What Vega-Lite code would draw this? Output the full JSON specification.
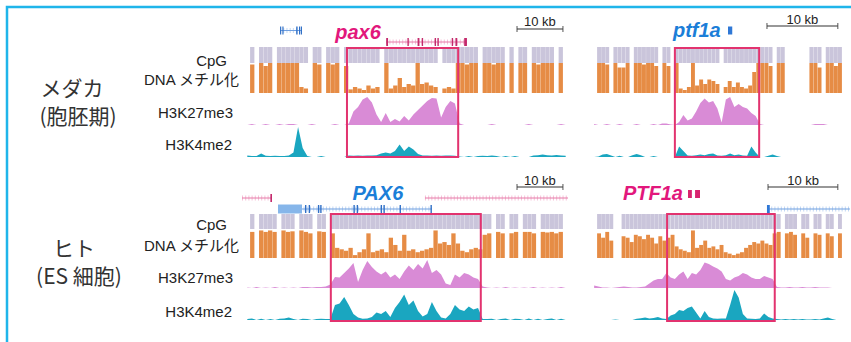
{
"$schema": "https://vega.github.io/schema/vega-lite/v6.json",
"width": 851, "height": 342, "autosize": {"type": "none"}, "padding": 0,
"background": "white",
"config": {"view": {"stroke": null}},
"datasets": {
"ml": [
{"x":0.5,"m":0.95,"k":0,"h":0.05},{"x":1.5,"k":0.03,"h":0.03},{"x":2.5,"m":1,"k":0,"h":0.03},{"x":3.5,"m":0.9,"k":0,"h":0.12},
{"x":4.5,"m":1,"k":0.03,"h":0.04},{"x":5.5,"k":0,"h":0.03},{"x":6.5,"m":1,"k":0,"h":0.04},{"x":7.5,"m":1,"k":0.03,"h":0.03},
{"x":8.5,"m":1,"k":0,"h":0.03},{"x":9.5,"m":1,"k":0.03,"h":0.05},{"x":10.5,"m":1,"k":0.03,"h":0.15},{"x":11.5,"m":0.2,"k":0,"h":1},
{"x":12.5,"m":0.15,"k":0,"h":0.3},{"x":13.5,"k":0,"h":0.03},{"x":14.5,"m":1,"k":0.03,"h":0},{"x":15.5,"m":0.95,"k":0,"h":0},
{"x":16.5,"k":0,"h":0.03},{"x":17.5,"m":1,"k":0,"h":0},{"x":18.5,"m":0.95,"k":0,"h":0},{"x":19.5,"m":1,"k":0.03,"h":0},
{"x":20.5,"k":0,"h":0},{"x":21.5,"m":0.9,"k":0,"h":0},{"x":22.5,"m":0.12,"k":0.05,"h":0.05},{"x":23.5,"m":0.2,"k":0.45,"h":0.04},
{"x":24.5,"m":0.15,"k":0.6,"h":0.05},{"x":25.5,"m":0.1,"k":0.85,"h":0.04},{"x":26.5,"m":0.25,"k":0.93,"h":0.05},{"x":27.5,"m":0.15,"k":0.75,"h":0.05},
{"x":28.5,"m":0.2,"k":0.35,"h":0.06},{"x":29.5,"k":0.1,"h":0.12},{"x":30.5,"m":1,"k":0.4,"h":0.15},{"x":31.5,"m":0.15,"k":0.1,"h":0.12},
{"x":32.5,"m":0.25,"k":0.2,"h":0.2},{"x":33.5,"m":0.5,"k":0.12,"h":0.42},{"x":34.5,"m":0.2,"k":0.3,"h":0.2},{"x":35.5,"m":0.3,"k":0.15,"h":0.35},
{"x":36.5,"m":0.25,"k":0.35,"h":0.25},{"x":37.5,"m":1,"k":0.5,"h":0.1},{"x":38.5,"m":0.3,"k":0.65,"h":0.05},{"x":39.5,"m":0.35,"k":0.8,"h":0.05},
{"x":40.5,"m":0.25,"k":0.9,"h":0.04},{"x":41.5,"m":0.2,"k":0.88,"h":0.05},{"x":42.5,"k":0.25,"h":0.04},{"x":43.5,"m":0.15,"k":0.6,"h":0.05},
{"x":44.5,"m":0.2,"k":0.8,"h":0.05},{"x":45.5,"m":0.15,"k":0.72,"h":0.04},{"x":46.5,"m":1,"k":0.05,"h":0.02},{"x":47.5,"m":1,"k":0,"h":0},
{"x":48.5,"m":0.95,"k":0,"h":0.03},{"x":49.5,"m":1,"k":0,"h":0},{"x":50.5,"m":1,"k":0,"h":0.03},{"x":51.5,"k":0,"h":0.04},
{"x":52.5,"m":1,"k":0,"h":0.03},{"x":53.5,"m":1,"k":0.03,"h":0.05},{"x":54.5,"m":0.95,"k":0,"h":0.03},{"x":55.5,"m":1,"k":0,"h":0},
{"x":56.5,"m":1,"k":0,"h":0.03},{"x":57.5,"k":0,"h":0},{"x":58.5,"m":1,"k":0,"h":0.03},{"x":59.5,"k":0,"h":0},
{"x":60.5,"m":1,"k":0,"h":0},{"x":61.5,"m":1,"k":0.03,"h":0},{"x":62.5,"k":0,"h":0.05},{"x":63.5,"m":1,"k":0,"h":0.06},
{"x":64.5,"m":0.95,"k":0,"h":0.08},{"x":65.5,"m":1,"k":0,"h":0.06},{"x":66.5,"m":1,"k":0,"h":0.05},{"x":67.5,"m":1,"k":0,"h":0.07},
{"x":68.5,"k":0.03,"h":0.05},{"x":69.5,"m":1,"k":0,"h":0.04}
],
"mr": [
{"x":0.3,"m":1,"k":0.03,"h":0},{"x":0.9,"m":1,"k":0,"h":0.02},{"x":1.5,"m":0.95,"k":0,"h":0.08},{"x":2.1,"k":0.03,"h":0.1},
{"x":2.7,"m":1,"k":0,"h":0.05},{"x":3.3,"m":0.85,"k":0,"h":0},{"x":3.9,"m":0.85,"k":0.03,"h":0.04},{"x":4.5,"m":1,"k":0,"h":0},
{"x":5.1,"k":0,"h":0},{"x":5.7,"m":1,"k":0,"h":0.06},{"x":6.3,"m":1,"k":0.03,"h":0.1},{"x":6.9,"m":0.95,"k":0,"h":0.06},
{"x":7.5,"m":1,"k":0,"h":0},{"x":8.1,"m":1,"k":0,"h":0},{"x":8.7,"m":0.9,"k":0.03,"h":0.03},{"x":9.3,"k":0,"h":0},
{"x":9.9,"m":1,"k":0.05,"h":0},{"x":10.5,"m":0.9,"k":0.05,"h":0},{"x":11.1,"k":0.02,"h":0},{"x":11.7,"m":1,"k":0,"h":0},
{"x":12.3,"m":0.15,"k":0.1,"h":0.35},{"x":12.9,"m":0.1,"k":0.33,"h":0.2},{"x":13.5,"m":0.2,"k":0.15,"h":0.05},{"x":14.1,"m":1,"k":0.22,"h":0.04},
{"x":14.7,"m":0.25,"k":0.45,"h":0.06},{"x":15.3,"m":0.45,"k":0.73,"h":0.08},{"x":15.9,"m":0.3,"k":0.88,"h":0.06},{"x":16.5,"m":0.45,"k":0.75,"h":0.1},
{"x":17.1,"m":0.4,"k":0.8,"h":0.12},{"x":17.7,"m":0.3,"k":0.55,"h":0.05},{"x":18.3,"k":0.08,"h":0.04},{"x":18.9,"m":0.2,"k":0.85,"h":0.06},
{"x":19.5,"m":0.4,"k":0.93,"h":0.12},{"x":20.1,"m":0.2,"k":0.6,"h":0.06},{"x":20.7,"m":0.35,"k":0.7,"h":0.08},{"x":21.3,"m":0.2,"k":0.6,"h":0.05},
{"x":21.9,"m":0.15,"k":0.55,"h":0.04},{"x":22.5,"m":0.25,"k":0.4,"h":0.35},{"x":23.1,"m":0.7,"k":0.3,"h":0.15},{"x":23.7,"m":1,"k":0.03,"h":0},
{"x":24.3,"m":1,"k":0,"h":0},{"x":24.9,"m":1,"k":0,"h":0.04},{"x":25.5,"m":0.9,"k":0,"h":0.08},{"x":26.1,"k":0,"h":0.03},
{"x":26.7,"m":1,"k":0,"h":0},{"x":27.3,"m":1,"k":0,"h":0},{"x":27.9,"k":0,"h":0},{"x":28.5,"k":0,"h":0},
{"x":29.1,"k":0,"h":0},{"x":29.7,"k":0,"h":0},{"x":30.3,"k":0,"h":0},{"x":30.9,"k":0,"h":0},
{"x":31.5,"m":1,"k":0.03,"h":0},{"x":32.1,"m":1,"k":0.03,"h":0},{"x":32.7,"m":0.85,"k":0.03,"h":0},{"x":33.3,"k":0,"h":0},
{"x":33.9,"m":1,"k":0,"h":0},{"x":34.5,"m":1,"k":0,"h":0},{"x":35.1,"m":0.9,"k":0,"h":0},{"x":35.7,"m":1,"k":0,"h":0}
],
"hl": [
{"x":0.5,"m":0.9,"k":0.02,"h":0.03},{"x":1.5,"k":0,"h":0.05},{"x":2.5,"m":0.95,"k":0.03,"h":0},{"x":3.5,"m":0.9,"k":0,"h":0.04},
{"x":4.5,"m":0.95,"k":0.02,"h":0},{"x":5.5,"m":0.9,"k":0,"h":0.03},{"x":6.5,"k":0.03,"h":0},{"x":7.5,"m":0.95,"k":0,"h":0.04},
{"x":8.5,"m":0.9,"k":0.02,"h":0.05},{"x":9.5,"m":0.92,"k":0,"h":0.08},{"x":10.5,"k":0.02,"h":0.03},{"x":11.5,"m":0.95,"k":0,"h":0},
{"x":12.5,"m":0.9,"k":0.03,"h":0.04},{"x":13.5,"m":0.85,"k":0.03,"h":0.03},{"x":14.5,"k":0.02,"h":0},{"x":15.5,"m":0.92,"k":0.03,"h":0.03},
{"x":16.5,"m":0.9,"k":0.03,"h":0.04},{"x":17.5,"k":0.05,"h":0.03},{"x":18.5,"m":0.85,"k":0.12,"h":0.03},{"x":19.5,"m":0.35,"k":0.37,"h":0.5},
{"x":20.5,"m":0.3,"k":0.35,"h":0.55},{"x":21.5,"m":0.25,"k":0.5,"h":0.77},{"x":22.5,"m":0.35,"k":0.65,"h":0.5},{"x":23.5,"m":0.1,"k":0.83,"h":0.2},
{"x":24.5,"m":0.2,"k":0.2,"h":0.08},{"x":25.5,"m":0.3,"k":0.6,"h":0.04},{"x":26.5,"m":0.85,"k":0.9,"h":0.05},{"x":27.5,"m":0.2,"k":0.7,"h":0.1},
{"x":28.5,"m":0.25,"k":0.55,"h":0.25},{"x":29.5,"m":0.3,"k":0.45,"h":0.2},{"x":30.5,"m":0.2,"k":0.55,"h":0.3},{"x":31.5,"m":0.7,"k":0.35,"h":0.1},
{"x":32.5,"m":0.45,"k":0.45,"h":0.4},{"x":33.5,"m":0.25,"k":0.3,"h":0.6},{"x":34.5,"m":0.8,"k":0.55,"h":0.85},{"x":35.5,"m":0.25,"k":0.75,"h":0.5},
{"x":36.5,"m":0.3,"k":0.6,"h":0.65},{"x":37.5,"m":0.2,"k":0.8,"h":0.3},{"x":38.5,"m":0.25,"k":0.65,"h":0.12},{"x":39.5,"m":0.3,"k":0.93,"h":0.2},
{"x":40.5,"m":0.35,"k":0.5,"h":0.6},{"x":41.5,"m":0.95,"k":0.6,"h":0.3},{"x":42.5,"m":0.5,"k":0.45,"h":0.08},{"x":43.5,"m":0.55,"k":0.15,"h":0.05},
{"x":44.5,"m":0.45,"k":0.1,"h":0.2},{"x":45.5,"m":0.85,"k":0.45,"h":0.5},{"x":46.5,"m":0.5,"k":0.35,"h":0.35},{"x":47.5,"m":0.25,"k":0.5,"h":0.3},
{"x":48.5,"m":0.2,"k":0.45,"h":0.45},{"x":49.5,"m":0.3,"k":0.35,"h":0.35},{"x":50.5,"m":0.35,"k":0.3,"h":0.4},{"x":51.5,"m":0.3,"k":0.05,"h":0.03},
{"x":52.5,"m":0.8,"k":0.02,"h":0.03},{"x":53.5,"m":0.85,"k":0,"h":0.04},{"x":54.5,"k":0.02,"h":0},{"x":55.5,"m":0.9,"k":0,"h":0.03},
{"x":56.5,"m":0.85,"k":0.03,"h":0.05},{"x":57.5,"k":0,"h":0},{"x":58.5,"m":0.85,"k":0.02,"h":0.04},{"x":59.5,"m":0.9,"k":0,"h":0.03},
{"x":60.5,"k":0.02,"h":0},{"x":61.5,"m":0.9,"k":0,"h":0.05},{"x":62.5,"m":0.9,"k":0.03,"h":0},{"x":63.5,"m":0.85,"k":0,"h":0.04},
{"x":64.5,"k":0.02,"h":0},{"x":65.5,"m":0.9,"k":0,"h":0.03},{"x":66.5,"m":0.88,"k":0.02,"h":0.05},{"x":67.5,"m":0.9,"k":0,"h":0},
{"x":68.5,"m":0.85,"k":0.03,"h":0.04},{"x":69.5,"m":0.9,"k":0,"h":0}
],
"hr": [
{"x":0.3,"m":0.85,"k":0.08,"h":0},{"x":0.9,"m":0.7,"k":0.05,"h":0},{"x":1.5,"m":0.9,"k":0.02,"h":0},{"x":2.1,"m":0.6,"k":0.02,"h":0},
{"x":2.7,"k":0,"h":0},{"x":3.3,"k":0.02,"h":0.02},{"x":3.9,"m":0.75,"k":0.03,"h":0},{"x":4.5,"m":0.7,"k":0.05,"h":0},
{"x":5.1,"m":0.55,"k":0.03,"h":0},{"x":5.7,"m":0.8,"k":0.02,"h":0},{"x":6.3,"m":0.75,"k":0.02,"h":0.04},{"x":6.9,"m":0.65,"k":0.03,"h":0.06},
{"x":7.5,"m":0.8,"k":0.05,"h":0.08},{"x":8.1,"m":0.7,"k":0.15,"h":0.05},{"x":8.7,"m":0.5,"k":0.25,"h":0.07},{"x":9.3,"m":0.75,"k":0.3,"h":0.1},
{"x":9.9,"m":0.6,"k":0.3,"h":0.05},{"x":10.5,"m":0.7,"k":0.5,"h":0.03},{"x":11.1,"m":0.8,"k":0.35,"h":0.15},{"x":11.7,"m":0.4,"k":0.3,"h":0.2},
{"x":12.3,"m":0.3,"k":0.45,"h":0.33},{"x":12.9,"m":0.25,"k":0.55,"h":0.3},{"x":13.5,"m":0.2,"k":0.3,"h":0.4},{"x":14.1,"m":0.95,"k":0.5,"h":0.45},
{"x":14.7,"m":0.35,"k":0.45,"h":0.25},{"x":15.3,"m":0.45,"k":0.6,"h":0.05},{"x":15.9,"m":0.6,"k":0.85,"h":0.3},{"x":16.5,"m":0.35,"k":0.8,"h":0.1},
{"x":17.1,"m":0.4,"k":0.72,"h":0.05},{"x":17.7,"m":0.3,"k":0.65,"h":0.04},{"x":18.3,"m":0.45,"k":0.55,"h":0.05},{"x":18.9,"m":0.2,"k":0.3,"h":0.05},
{"x":19.5,"m":0.15,"k":0.25,"h":0.5},{"x":20.1,"m":0.1,"k":0.35,"h":1},{"x":20.7,"m":0.15,"k":0.4,"h":0.75},{"x":21.3,"m":0.2,"k":0.5,"h":0.2},
{"x":21.9,"m":0.35,"k":0.45,"h":0.05},{"x":22.5,"m":0.45,"k":0.35,"h":0.04},{"x":23.1,"m":0.55,"k":0.3,"h":0.03},{"x":23.7,"m":0.5,"k":0.3,"h":0.05},
{"x":24.3,"m":0.6,"k":0.4,"h":0.22},{"x":24.9,"m":0.5,"k":0.35,"h":0.1},{"x":25.5,"m":0.45,"k":0.3,"h":0.05},{"x":26.1,"m":0.85,"k":0.03,"h":0.03},
{"x":26.7,"m":0.9,"k":0.02,"h":0.02},{"x":27.3,"k":0.02,"h":0.03},{"x":27.9,"m":0.85,"k":0.03,"h":0.02},{"x":28.5,"m":0.9,"k":0.02,"h":0.03},
{"x":29.1,"m":0.8,"k":0.02,"h":0.02},{"x":29.7,"k":0.03,"h":0.03},{"x":30.3,"m":0.85,"k":0.02,"h":0.02},{"x":30.9,"m":0.7,"k":0.02,"h":0.02},
{"x":31.5,"k":0.03,"h":0.03},{"x":32.1,"m":0.85,"k":0.02,"h":0.02},{"x":32.7,"m":0.8,"k":0.02,"h":0.05},{"x":33.3,"k":0.02,"h":0.08},
{"x":33.9,"m":0.85,"k":0,"h":0.03},{"x":34.5,"m":0.75,"k":0,"h":0},{"x":35.1,"k":0,"h":0},{"x":35.7,"m":0.85,"k":0,"h":0}
],
"boxes": [
{"col":"L","a":22.1,"b":46.2,"top":7,"bottom":8},
{"col":"R","a":11.7,"b":23.6,"top":7,"bottom":8},
{"col":"L","a":18.6,"b":51.1,"top":14,"bottom":15},
{"col":"R","a":10.6,"b":25.8,"top":14,"bottom":15}
],
"ann": [
{"col":"L","kind":"scale","a":58.95,"b":68.9,"lane":3},
{"col":"L","kind":"scale","a":58.95,"b":68.9,"lane":10},
{"col":"L","kind":"scaletext","a":63.9,"lane":1,"text":"10 kb"},
{"col":"L","kind":"scaletext","a":63.9,"lane":9,"text":"10 kb"},
{"col":"L","kind":"name","a":24.5,"lane":5,"text":"pax6","strand":"+"},
{"col":"L","kind":"name","a":28.8,"lane":11,"text":"PAX6","strand":"-"},
{"col":"L","kind":"intron","a":7.6,"b":12.35,"lane":4,"strand":"-"},
{"col":"L","kind":"intron","a":30.6,"b":48.1,"lane":6,"strand":"+"},
{"col":"L","kind":"intron","a":-0.65,"b":5.85,"lane":12,"strand":"+"},
{"col":"L","kind":"intron","a":39.0,"b":70.0,"lane":12,"strand":"+"},
{"col":"L","kind":"intron","a":7.15,"b":40.5,"lane":13,"strand":"-"},
{"col":"L","kind":"utr","a":7.15,"b":12.35,"lane":13,"strand":"-"},
{"col":"L","kind":"exon","a":7.6,"b":7.85,"lane":4,"strand":"-"},
{"col":"L","kind":"exon","a":8.1,"b":8.35,"lane":4,"strand":"-"},
{"col":"L","kind":"exon","a":11.1,"b":11.4,"lane":4,"strand":"-"},
{"col":"L","kind":"exon","a":11.7,"b":11.95,"lane":4,"strand":"-"},
{"col":"L","kind":"exon","a":12.1,"b":12.35,"lane":4,"strand":"-"},
{"col":"L","kind":"exon","a":30.6,"b":31.0,"lane":6,"strand":"+"},
{"col":"L","kind":"exon","a":35.2,"b":35.5,"lane":6,"strand":"+"},
{"col":"L","kind":"exon","a":37.4,"b":37.8,"lane":6,"strand":"+"},
{"col":"L","kind":"exon","a":38.3,"b":38.6,"lane":6,"strand":"+"},
{"col":"L","kind":"exon","a":41.1,"b":41.4,"lane":6,"strand":"+"},
{"col":"L","kind":"exon","a":41.7,"b":42.0,"lane":6,"strand":"+"},
{"col":"L","kind":"exon","a":44.8,"b":45.1,"lane":6,"strand":"+"},
{"col":"L","kind":"exon","a":45.6,"b":46.0,"lane":6,"strand":"+"},
{"col":"L","kind":"exon","a":47.5,"b":48.1,"lane":6,"strand":"+"},
{"col":"L","kind":"exon","a":5.5,"b":5.85,"lane":12,"strand":"+"},
{"col":"L","kind":"exon","a":13.0,"b":13.3,"lane":13,"strand":"-"},
{"col":"L","kind":"exon","a":13.8,"b":14.1,"lane":13,"strand":"-"},
{"col":"L","kind":"exon","a":15.8,"b":16.1,"lane":13,"strand":"-"},
{"col":"L","kind":"exon","a":16.3,"b":16.6,"lane":13,"strand":"-"},
{"col":"L","kind":"exon","a":23.5,"b":23.8,"lane":13,"strand":"-"},
{"col":"L","kind":"exon","a":24.2,"b":24.5,"lane":13,"strand":"-"},
{"col":"L","kind":"exon","a":29.4,"b":29.7,"lane":13,"strand":"-"},
{"col":"L","kind":"exon","a":30.0,"b":30.3,"lane":13,"strand":"-"},
{"col":"L","kind":"exon","a":33.5,"b":33.8,"lane":13,"strand":"-"},
{"col":"L","kind":"exon","a":40.2,"b":40.5,"lane":13,"strand":"-"},
{"col":"R","kind":"scale","a":24.7,"b":34.7,"lane":2},
{"col":"R","kind":"scale","a":24.85,"b":34.7,"lane":10},
{"col":"R","kind":"scaletext","a":29.7,"lane":0,"text":"10 kb"},
{"col":"R","kind":"scaletext","a":29.8,"lane":9,"text":"10 kb"},
{"col":"R","kind":"name","a":14.8,"lane":4,"text":"ptf1a","strand":"-"},
{"col":"R","kind":"name","a":8.6,"lane":11,"text":"PTF1a","strand":"+"},
{"col":"R","kind":"exon","a":19.2,"b":19.8,"lane":4,"strand":"-"},
{"col":"R","kind":"exon","a":13.55,"b":14.1,"lane":11,"strand":"+"},
{"col":"R","kind":"exon","a":14.55,"b":15.25,"lane":11,"strand":"+"},
{"col":"R","kind":"intron","a":24.85,"b":36.4,"lane":13,"strand":"-"},
{"col":"R","kind":"exon","a":24.7,"b":25.1,"lane":13,"strand":"-"}
],
"tracklabels": [
{"label":"CpG","order":0},{"label":"DNA メチル化","order":1},{"label":"H3K27me3","order":2},{"label":"H3K4me2","order":3},
{"label":"CpG","order":4},{"label":"DNA メチル化","order":5},{"label":"H3K27me3","order":6},{"label":"H3K4me2","order":7}
],
"species": [
{"label":"メダカ","order":0},{"label":"(胞胚期)","order":1},{"label":"ヒト","order":2},{"label":"(ES 細胞)","order":3}
]
},
"layer": [
{"data":{"name":"ml"},"transform":[{"filter":"isValid(datum.m)"}],"mark":{"type":"bar","orient":"vertical","width":4.3,"color":"#cac5db"},
 "encoding":{"x":{"field":"x","type":"quantitative","scale":{"domain":[0,70],"range":[245,568],"nice":false,"zero":false},"axis":null},
  "y":{"datum":1,"type":"quantitative","scale":{"domain":[0,1],"range":[63,47],"nice":false,"zero":false},"axis":null},"y2":{"datum":0}}},
{"data":{"name":"ml"},"transform":[{"filter":"isValid(datum.m)"}],"mark":{"type":"bar","orient":"vertical","width":4.3,"color":"#e68c45"},
 "encoding":{"x":{"field":"x","type":"quantitative","scale":{"domain":[0,70],"range":[245,568],"nice":false,"zero":false},"axis":null},
  "y":{"field":"m","type":"quantitative","scale":{"domain":[0,1],"range":[93,63],"nice":false,"zero":false},"axis":null},"y2":{"datum":0}}},
{"data":{"name":"ml"},"mark":{"type":"area","orient":"vertical","interpolate":"linear","color":"#d98bd6"},
 "encoding":{"x":{"field":"x","type":"quantitative","scale":{"domain":[0,70],"range":[245,568],"nice":false,"zero":false},"axis":null},
  "y":{"field":"k","type":"quantitative","scale":{"domain":[0,1],"range":[125,95],"nice":false,"zero":false},"axis":null},"y2":{"datum":0}}},
{"data":{"name":"ml"},"mark":{"type":"area","orient":"vertical","interpolate":"linear","color":"#1aa6c0"},
 "encoding":{"x":{"field":"x","type":"quantitative","scale":{"domain":[0,70],"range":[245,568],"nice":false,"zero":false},"axis":null},
  "y":{"field":"h","type":"quantitative","scale":{"domain":[0,1],"range":[157,127],"nice":false,"zero":false},"axis":null},"y2":{"datum":0}}},

{"data":{"name":"mr"},"transform":[{"filter":"isValid(datum.m)"}],"mark":{"type":"bar","orient":"vertical","width":3.9,"color":"#cac5db"},
 "encoding":{"x":{"field":"x","type":"quantitative","scale":{"domain":[0,36],"range":[592,847],"nice":false,"zero":false},"axis":null},
  "y":{"datum":1,"type":"quantitative","scale":{"domain":[0,1],"range":[63,47],"nice":false,"zero":false},"axis":null},"y2":{"datum":0}}},
{"data":{"name":"mr"},"transform":[{"filter":"isValid(datum.m)"}],"mark":{"type":"bar","orient":"vertical","width":3.9,"color":"#e68c45"},
 "encoding":{"x":{"field":"x","type":"quantitative","scale":{"domain":[0,36],"range":[592,847],"nice":false,"zero":false},"axis":null},
  "y":{"field":"m","type":"quantitative","scale":{"domain":[0,1],"range":[93,63],"nice":false,"zero":false},"axis":null},"y2":{"datum":0}}},
{"data":{"name":"mr"},"mark":{"type":"area","orient":"vertical","interpolate":"linear","color":"#d98bd6"},
 "encoding":{"x":{"field":"x","type":"quantitative","scale":{"domain":[0,36],"range":[592,847],"nice":false,"zero":false},"axis":null},
  "y":{"field":"k","type":"quantitative","scale":{"domain":[0,1],"range":[125,95],"nice":false,"zero":false},"axis":null},"y2":{"datum":0}}},
{"data":{"name":"mr"},"mark":{"type":"area","orient":"vertical","interpolate":"linear","color":"#1aa6c0"},
 "encoding":{"x":{"field":"x","type":"quantitative","scale":{"domain":[0,36],"range":[592,847],"nice":false,"zero":false},"axis":null},
  "y":{"field":"h","type":"quantitative","scale":{"domain":[0,1],"range":[157,127],"nice":false,"zero":false},"axis":null},"y2":{"datum":0}}},

{"data":{"name":"hl"},"transform":[{"filter":"isValid(datum.m)"}],"mark":{"type":"bar","orient":"vertical","width":4.3,"color":"#cac5db"},
 "encoding":{"x":{"field":"x","type":"quantitative","scale":{"domain":[0,70],"range":[245,568],"nice":false,"zero":false},"axis":null},
  "y":{"datum":1,"type":"quantitative","scale":{"domain":[0,1],"range":[229,214],"nice":false,"zero":false},"axis":null},"y2":{"datum":0}}},
{"data":{"name":"hl"},"transform":[{"filter":"isValid(datum.m)"}],"mark":{"type":"bar","orient":"vertical","width":4.3,"color":"#e68c45"},
 "encoding":{"x":{"field":"x","type":"quantitative","scale":{"domain":[0,70],"range":[245,568],"nice":false,"zero":false},"axis":null},
  "y":{"field":"m","type":"quantitative","scale":{"domain":[0,1],"range":[258,229],"nice":false,"zero":false},"axis":null},"y2":{"datum":0}}},
{"data":{"name":"hl"},"mark":{"type":"area","orient":"vertical","interpolate":"linear","color":"#d98bd6"},
 "encoding":{"x":{"field":"x","type":"quantitative","scale":{"domain":[0,70],"range":[245,568],"nice":false,"zero":false},"axis":null},
  "y":{"field":"k","type":"quantitative","scale":{"domain":[0,1],"range":[288,258],"nice":false,"zero":false},"axis":null},"y2":{"datum":0}}},
{"data":{"name":"hl"},"mark":{"type":"area","orient":"vertical","interpolate":"linear","color":"#1aa6c0"},
 "encoding":{"x":{"field":"x","type":"quantitative","scale":{"domain":[0,70],"range":[245,568],"nice":false,"zero":false},"axis":null},
  "y":{"field":"h","type":"quantitative","scale":{"domain":[0,1],"range":[320,290],"nice":false,"zero":false},"axis":null},"y2":{"datum":0}}},

{"data":{"name":"hr"},"transform":[{"filter":"isValid(datum.m)"}],"mark":{"type":"bar","orient":"vertical","width":3.9,"color":"#cac5db"},
 "encoding":{"x":{"field":"x","type":"quantitative","scale":{"domain":[0,36],"range":[592,847],"nice":false,"zero":false},"axis":null},
  "y":{"datum":1,"type":"quantitative","scale":{"domain":[0,1],"range":[229,214],"nice":false,"zero":false},"axis":null},"y2":{"datum":0}}},
{"data":{"name":"hr"},"transform":[{"filter":"isValid(datum.m)"}],"mark":{"type":"bar","orient":"vertical","width":3.9,"color":"#e68c45"},
 "encoding":{"x":{"field":"x","type":"quantitative","scale":{"domain":[0,36],"range":[592,847],"nice":false,"zero":false},"axis":null},
  "y":{"field":"m","type":"quantitative","scale":{"domain":[0,1],"range":[258,229],"nice":false,"zero":false},"axis":null},"y2":{"datum":0}}},
{"data":{"name":"hr"},"mark":{"type":"area","orient":"vertical","interpolate":"linear","color":"#d98bd6"},
 "encoding":{"x":{"field":"x","type":"quantitative","scale":{"domain":[0,36],"range":[592,847],"nice":false,"zero":false},"axis":null},
  "y":{"field":"k","type":"quantitative","scale":{"domain":[0,1],"range":[288,258],"nice":false,"zero":false},"axis":null},"y2":{"datum":0}}},
{"data":{"name":"hr"},"mark":{"type":"area","orient":"vertical","interpolate":"linear","color":"#1aa6c0"},
 "encoding":{"x":{"field":"x","type":"quantitative","scale":{"domain":[0,36],"range":[592,847],"nice":false,"zero":false},"axis":null},
  "y":{"field":"h","type":"quantitative","scale":{"domain":[0,1],"range":[320,290],"nice":false,"zero":false},"axis":null},"y2":{"datum":0}}},

{"data":{"name":"boxes"},"transform":[{"filter":"datum.col == 'L'"}],"mark":{"type":"rect","filled":false,"stroke":"#e2336f","strokeWidth":2},
 "encoding":{"x":{"field":"a","type":"quantitative","scale":{"domain":[0,70],"range":[245,568],"nice":false,"zero":false},"axis":null},"x2":{"field":"b"},
  "y":{"field":"top","type":"quantitative","scale":{"domain":[0,1,2,3,4,5,6,7,8,9,10,11,12,13,14,15],"range":[19.5,21.5,26,29,30.5,33,42,48,157,181,187,194,198,209,214,321],"nice":false,"zero":false},"axis":null},"y2":{"field":"bottom"}}},
{"data":{"name":"boxes"},"transform":[{"filter":"datum.col == 'R'"}],"mark":{"type":"rect","filled":false,"stroke":"#e2336f","strokeWidth":2},
 "encoding":{"x":{"field":"a","type":"quantitative","scale":{"domain":[0,36],"range":[592,847],"nice":false,"zero":false},"axis":null},"x2":{"field":"b"},
  "y":{"field":"top","type":"quantitative","scale":{"domain":[0,1,2,3,4,5,6,7,8,9,10,11,12,13,14,15],"range":[19.5,21.5,26,29,30.5,33,42,48,157,181,187,194,198,209,214,321],"nice":false,"zero":false},"axis":null},"y2":{"field":"bottom"}}},

{"data":{"name":"ann"},"transform":[{"filter":"datum.col == 'L' && datum.kind == 'intron'"}],"mark":{"type":"rule","strokeWidth":5,"strokeDash":[1,2.2],"opacity":0.7},
 "encoding":{"x":{"field":"a","type":"quantitative","scale":{"domain":[0,70],"range":[245,568],"nice":false,"zero":false},"axis":null},"x2":{"field":"b"},
  "y":{"field":"lane","type":"quantitative","scale":{"domain":[0,1,2,3,4,5,6,7,8,9,10,11,12,13,14,15],"range":[19.5,21.5,26,29,30.5,33,42,48,157,181,187,194,198,209,214,321],"nice":false,"zero":false},"axis":null},
  "color":{"field":"strand","type":"nominal","scale":{"domain":["+","-"],"range":["#f2a6c8","#a6c6ee"]},"legend":null}}},
{"data":{"name":"ann"},"transform":[{"filter":"datum.col == 'L' && datum.kind == 'intron'"}],"mark":{"type":"rule","strokeWidth":1},
 "encoding":{"x":{"field":"a","type":"quantitative","scale":{"domain":[0,70],"range":[245,568],"nice":false,"zero":false},"axis":null},"x2":{"field":"b"},
  "y":{"field":"lane","type":"quantitative","scale":{"domain":[0,1,2,3,4,5,6,7,8,9,10,11,12,13,14,15],"range":[19.5,21.5,26,29,30.5,33,42,48,157,181,187,194,198,209,214,321],"nice":false,"zero":false},"axis":null},
  "color":{"field":"strand","type":"nominal","scale":{"domain":["+","-"],"range":["#e67aa8","#6f9fe0"]},"legend":null}}},
{"data":{"name":"ann"},"transform":[{"filter":"datum.col == 'L' && datum.kind == 'utr'"}],"mark":{"type":"rule","strokeWidth":9,"strokeCap":"butt","color":"#86b6ea"},
 "encoding":{"x":{"field":"a","type":"quantitative","scale":{"domain":[0,70],"range":[245,568],"nice":false,"zero":false},"axis":null},"x2":{"field":"b"},
  "y":{"field":"lane","type":"quantitative","scale":{"domain":[0,1,2,3,4,5,6,7,8,9,10,11,12,13,14,15],"range":[19.5,21.5,26,29,30.5,33,42,48,157,181,187,194,198,209,214,321],"nice":false,"zero":false},"axis":null}}},
{"data":{"name":"ann"},"transform":[{"filter":"datum.col == 'L' && datum.kind == 'exon'"}],"mark":{"type":"rule","strokeWidth":8,"strokeCap":"butt"},
 "encoding":{"x":{"field":"a","type":"quantitative","scale":{"domain":[0,70],"range":[245,568],"nice":false,"zero":false},"axis":null},"x2":{"field":"b"},
  "y":{"field":"lane","type":"quantitative","scale":{"domain":[0,1,2,3,4,5,6,7,8,9,10,11,12,13,14,15],"range":[19.5,21.5,26,29,30.5,33,42,48,157,181,187,194,198,209,214,321],"nice":false,"zero":false},"axis":null},
  "color":{"field":"strand","type":"nominal","scale":{"domain":["+","-"],"range":["#c42a6c","#2f6fc6"]},"legend":null}}},
{"data":{"name":"ann"},"transform":[{"filter":"datum.col == 'L' && datum.kind == 'scale'"}],"mark":{"type":"rule","strokeWidth":1.2,"color":"#333333"},
 "encoding":{"x":{"field":"a","type":"quantitative","scale":{"domain":[0,70],"range":[245,568],"nice":false,"zero":false},"axis":null},"x2":{"field":"b"},
  "y":{"field":"lane","type":"quantitative","scale":{"domain":[0,1,2,3,4,5,6,7,8,9,10,11,12,13,14,15],"range":[19.5,21.5,26,29,30.5,33,42,48,157,181,187,194,198,209,214,321],"nice":false,"zero":false},"axis":null}}},
{"data":{"name":"ann"},"transform":[{"filter":"datum.col == 'L' && datum.kind == 'scale'"},{"fold":["a","b"],"as":["end","pos"]}],"mark":{"type":"tick","orient":"vertical","size":6,"thickness":1.2,"color":"#333333"},
 "encoding":{"x":{"field":"pos","type":"quantitative","scale":{"domain":[0,70],"range":[245,568],"nice":false,"zero":false},"axis":null},
  "y":{"field":"lane","type":"quantitative","scale":{"domain":[0,1,2,3,4,5,6,7,8,9,10,11,12,13,14,15],"range":[19.5,21.5,26,29,30.5,33,42,48,157,181,187,194,198,209,214,321],"nice":false,"zero":false},"axis":null}}},
{"data":{"name":"ann"},"transform":[{"filter":"datum.col == 'L' && datum.kind == 'scaletext'"}],"mark":{"type":"text","align":"center","baseline":"middle","fontSize":13,"font":"Liberation Sans","color":"#222222"},
 "encoding":{"x":{"field":"a","type":"quantitative","scale":{"domain":[0,70],"range":[245,568],"nice":false,"zero":false},"axis":null},
  "y":{"field":"lane","type":"quantitative","scale":{"domain":[0,1,2,3,4,5,6,7,8,9,10,11,12,13,14,15],"range":[19.5,21.5,26,29,30.5,33,42,48,157,181,187,194,198,209,214,321],"nice":false,"zero":false},"axis":null},
  "text":{"field":"text"}}},
{"data":{"name":"ann"},"transform":[{"filter":"datum.col == 'L' && datum.kind == 'name'"}],"mark":{"type":"text","align":"center","baseline":"middle","fontSize":20,"font":"Liberation Sans","fontWeight":"bold","fontStyle":"italic"},
 "encoding":{"x":{"field":"a","type":"quantitative","scale":{"domain":[0,70],"range":[245,568],"nice":false,"zero":false},"axis":null},
  "y":{"field":"lane","type":"quantitative","scale":{"domain":[0,1,2,3,4,5,6,7,8,9,10,11,12,13,14,15],"range":[19.5,21.5,26,29,30.5,33,42,48,157,181,187,194,198,209,214,321],"nice":false,"zero":false},"axis":null},
  "text":{"field":"text"},
  "color":{"field":"strand","type":"nominal","scale":{"domain":["+","-"],"range":["#e2177c","#1b7ed8"]},"legend":null}}},

{"data":{"name":"ann"},"transform":[{"filter":"datum.col == 'R' && datum.kind == 'intron'"}],"mark":{"type":"rule","strokeWidth":5,"strokeDash":[1,2.2],"opacity":0.7},
 "encoding":{"x":{"field":"a","type":"quantitative","scale":{"domain":[0,36],"range":[592,847],"nice":false,"zero":false},"axis":null},"x2":{"field":"b"},
  "y":{"field":"lane","type":"quantitative","scale":{"domain":[0,1,2,3,4,5,6,7,8,9,10,11,12,13,14,15],"range":[19.5,21.5,26,29,30.5,33,42,48,157,181,187,194,198,209,214,321],"nice":false,"zero":false},"axis":null},
  "color":{"field":"strand","type":"nominal","scale":{"domain":["+","-"],"range":["#f2a6c8","#a6c6ee"]},"legend":null}}},
{"data":{"name":"ann"},"transform":[{"filter":"datum.col == 'R' && datum.kind == 'intron'"}],"mark":{"type":"rule","strokeWidth":1},
 "encoding":{"x":{"field":"a","type":"quantitative","scale":{"domain":[0,36],"range":[592,847],"nice":false,"zero":false},"axis":null},"x2":{"field":"b"},
  "y":{"field":"lane","type":"quantitative","scale":{"domain":[0,1,2,3,4,5,6,7,8,9,10,11,12,13,14,15],"range":[19.5,21.5,26,29,30.5,33,42,48,157,181,187,194,198,209,214,321],"nice":false,"zero":false},"axis":null},
  "color":{"field":"strand","type":"nominal","scale":{"domain":["+","-"],"range":["#e67aa8","#6f9fe0"]},"legend":null}}},
{"data":{"name":"ann"},"transform":[{"filter":"datum.col == 'R' && datum.kind == 'exon'"}],"mark":{"type":"rule","strokeWidth":8,"strokeCap":"butt"},
 "encoding":{"x":{"field":"a","type":"quantitative","scale":{"domain":[0,36],"range":[592,847],"nice":false,"zero":false},"axis":null},"x2":{"field":"b"},
  "y":{"field":"lane","type":"quantitative","scale":{"domain":[0,1,2,3,4,5,6,7,8,9,10,11,12,13,14,15],"range":[19.5,21.5,26,29,30.5,33,42,48,157,181,187,194,198,209,214,321],"nice":false,"zero":false},"axis":null},
  "color":{"field":"strand","type":"nominal","scale":{"domain":["+","-"],"range":["#d8246f","#2f78d6"]},"legend":null}}},
{"data":{"name":"ann"},"transform":[{"filter":"datum.col == 'R' && datum.kind == 'scale'"}],"mark":{"type":"rule","strokeWidth":1.2,"color":"#333333"},
 "encoding":{"x":{"field":"a","type":"quantitative","scale":{"domain":[0,36],"range":[592,847],"nice":false,"zero":false},"axis":null},"x2":{"field":"b"},
  "y":{"field":"lane","type":"quantitative","scale":{"domain":[0,1,2,3,4,5,6,7,8,9,10,11,12,13,14,15],"range":[19.5,21.5,26,29,30.5,33,42,48,157,181,187,194,198,209,214,321],"nice":false,"zero":false},"axis":null}}},
{"data":{"name":"ann"},"transform":[{"filter":"datum.col == 'R' && datum.kind == 'scale'"},{"fold":["a","b"],"as":["end","pos"]}],"mark":{"type":"tick","orient":"vertical","size":6,"thickness":1.2,"color":"#333333"},
 "encoding":{"x":{"field":"pos","type":"quantitative","scale":{"domain":[0,36],"range":[592,847],"nice":false,"zero":false},"axis":null},
  "y":{"field":"lane","type":"quantitative","scale":{"domain":[0,1,2,3,4,5,6,7,8,9,10,11,12,13,14,15],"range":[19.5,21.5,26,29,30.5,33,42,48,157,181,187,194,198,209,214,321],"nice":false,"zero":false},"axis":null}}},
{"data":{"name":"ann"},"transform":[{"filter":"datum.col == 'R' && datum.kind == 'scaletext'"}],"mark":{"type":"text","align":"center","baseline":"middle","fontSize":13,"font":"Liberation Sans","color":"#222222"},
 "encoding":{"x":{"field":"a","type":"quantitative","scale":{"domain":[0,36],"range":[592,847],"nice":false,"zero":false},"axis":null},
  "y":{"field":"lane","type":"quantitative","scale":{"domain":[0,1,2,3,4,5,6,7,8,9,10,11,12,13,14,15],"range":[19.5,21.5,26,29,30.5,33,42,48,157,181,187,194,198,209,214,321],"nice":false,"zero":false},"axis":null},
  "text":{"field":"text"}}},
{"data":{"name":"ann"},"transform":[{"filter":"datum.col == 'R' && datum.kind == 'name'"}],"mark":{"type":"text","align":"center","baseline":"middle","fontSize":20,"font":"Liberation Sans","fontWeight":"bold","fontStyle":"italic"},
 "encoding":{"x":{"field":"a","type":"quantitative","scale":{"domain":[0,36],"range":[592,847],"nice":false,"zero":false},"axis":null},
  "y":{"field":"lane","type":"quantitative","scale":{"domain":[0,1,2,3,4,5,6,7,8,9,10,11,12,13,14,15],"range":[19.5,21.5,26,29,30.5,33,42,48,157,181,187,194,198,209,214,321],"nice":false,"zero":false},"axis":null},
  "text":{"field":"text"},
  "color":{"field":"strand","type":"nominal","scale":{"domain":["+","-"],"range":["#e2177c","#1b7ed8"]},"legend":null}}},

{"data":{"name":"tracklabels"},"mark":{"type":"text","align":"right","baseline":"middle","fontSize":15,"font":"Liberation Sans, Noto Sans CJK JP","color":"#222222"},
 "encoding":{"x":{"field":"order","type":"quantitative","scale":{"domain":[0,1,2,3,4,5,6,7],"range":[227,239,233,232,227,239,233,232],"nice":false,"zero":false},"axis":null},
  "y":{"field":"order","type":"quantitative","scale":{"domain":[0,1,2,3,4,5,6,7],"range":[61,80,113,145,225,246,278,312],"nice":false,"zero":false},"axis":null},
  "text":{"field":"label"}}},
{"data":{"name":"species"},"mark":{"type":"text","align":"center","baseline":"middle","fontSize":21,"font":"Noto Sans CJK JP","color":"#333333"},
 "encoding":{"x":{"field":"order","type":"quantitative","scale":{"domain":[0,1,2,3],"range":[72,78,74,79],"nice":false,"zero":false},"axis":null},
  "y":{"field":"order","type":"quantitative","scale":{"domain":[0,1,2,3],"range":[90,118,250,278],"nice":false,"zero":false},"axis":null},
  "text":{"field":"label"}}},
{"data":{"values":[{"frame":"outer"}]},"mark":{"type":"rect","filled":false,"stroke":"#1fb5ea","strokeWidth":2.5},
 "encoding":{"x":{"datum":0,"type":"quantitative","scale":{"domain":[0,1],"range":[7,900],"nice":false,"zero":false},"axis":null},"x2":{"datum":1},
  "y":{"datum":0,"type":"quantitative","scale":{"domain":[0,1],"range":[7,400],"nice":false,"zero":false},"axis":null},"y2":{"datum":1}}}
],
"resolve": {"scale": {"x": "independent", "y": "independent", "color": "independent"}}
}
